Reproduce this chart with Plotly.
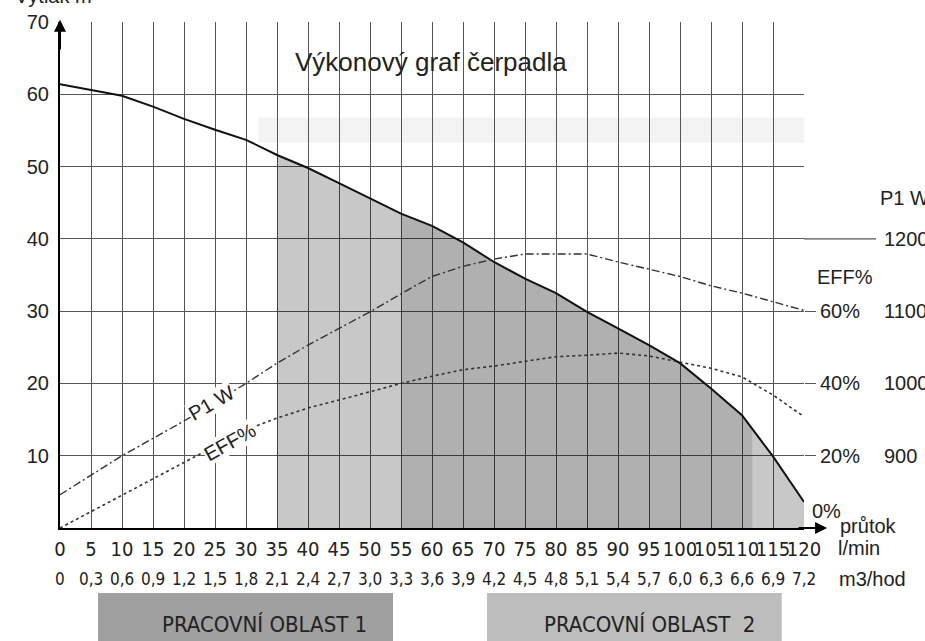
import numpy as np
import plotly.graph_objects as go

# ---------------- data ----------------
flow_lpm = [0, 5, 10, 15, 20, 25, 30, 35, 40, 45, 50, 55, 60, 65, 70, 75, 80, 85, 90, 95, 100, 105, 110, 115, 120]
flow_m3h = ["0", "0,3", "0,6", "0,9", "1,2", "1,5", "1,8", "2,1", "2,4", "2,7", "3,0", "3,3", "3,6",
            "3,9", "4,2", "4,5", "4,8", "5,1", "5,4", "5,7", "6,0", "6,3", "6,6", "6,9", "7,2"]
head_m = [61.4, 60.6, 59.8, 58.3, 56.6, 55.1, 53.7, 51.6, 49.8, 47.7, 45.6, 43.5, 41.8, 39.5, 36.8,
          34.5, 32.5, 29.9, 27.6, 25.3, 22.8, 19.3, 15.6, 9.9, 3.6]
power_w = [846, 873, 900, 924, 948, 974, 1000, 1028, 1053, 1076, 1099, 1124, 1148, 1162, 1172,
           1179, 1179, 1179, 1168, 1158, 1148, 1135, 1125, 1113, 1101]
eff_pct = [0, 4.5, 9.2, 13.6, 18.0, 22.6, 27.2, 30.4, 33.2, 35.4, 37.8, 40.0, 42.0, 43.8, 44.8,
           46.2, 47.4, 47.8, 48.4, 47.6, 46.0, 44.2, 41.8, 36.8, 30.8]
head_ticks = [10, 20, 30, 40, 50, 60, 70]
eff_ticks = [20, 40, 60]
power_ticks = [900, 1000, 1100, 1200]

# working zones (l/min) : (start, end, fill)
zones = [(35, 55, "rgba(0,0,0,0.215)"),
         (55, 111.7, "rgba(0,0,0,0.31)"),
         (111.7, 120, "rgba(0,0,0,0.215)")]
zone_labels = ["PRACOVNÍ OBLAST 1", "PRACOVNÍ OBLAST  2"]

NARROW = "Liberation Sans Narrow, Arial Narrow, DejaVu Sans Condensed, sans-serif"
REG = "Liberation Sans, Arial, Helvetica, sans-serif"
GRID = "#555555"
TXT = "#222222"

fig = go.Figure()

# shaded zones under head curve
fx = np.array(flow_lpm, dtype=float)
fh = np.array(head_m, dtype=float)
for x0, x1, col in zones:
    inner = [(x, h) for x, h in zip(fx, fh) if x0 < x < x1]
    xs = [x0] + [p[0] for p in inner] + [x1]
    ys = [float(np.interp(x0, fx, fh))] + [p[1] for p in inner] + [float(np.interp(x1, fx, fh))]
    fig.add_trace(go.Scatter(x=xs, y=ys, mode="lines", line=dict(width=0),
                             fill="tozeroy", fillcolor=col, hoverinfo="skip", showlegend=False))

# efficiency (dotted) on y2
fig.add_trace(go.Scatter(x=flow_lpm, y=eff_pct, yaxis="y2", mode="lines",
                         line=dict(color="#333333", width=1.6, dash="dot"), showlegend=False))
# power (dash-dot) on y3
fig.add_trace(go.Scatter(x=flow_lpm, y=power_w, yaxis="y3", mode="lines",
                         line=dict(color="#333333", width=1.4, dash="8px,3px,2px,3px"), showlegend=False))
# head curve
fig.add_trace(go.Scatter(x=flow_lpm, y=head_m, mode="lines",
                         line=dict(color="#111111", width=2), showlegend=False))

annotations = []
# title
annotations.append(dict(text="Výkonový graf čerpadla", xref="paper", yref="y", x=0.499, y=64.5,
                        xanchor="center", showarrow=False, font=dict(family=REG, size=26, color=TXT)))
# clipped y-axis title
annotations.append(dict(text="Výtlak m", xref="paper", yref="paper", x=-0.063, y=1.052,
                        xanchor="left", yanchor="middle", showarrow=False,
                        font=dict(family=REG, size=20, color=TXT)))
# labels on curves
annotations.append(dict(text="P1 W", xref="x", yref="y3", x=24.4, y=973, textangle=-30,
                        xanchor="center", showarrow=False, bgcolor="white", borderpad=0,
                        font=dict(family=REG, size=20, color=TXT)))
annotations.append(dict(text="EFF%", xref="x", yref="y2", x=27.4, y=23.8, textangle=-29,
                        xanchor="center", showarrow=False, bgcolor="white", borderpad=0,
                        font=dict(family=REG, size=20, color=TXT)))
# right-side axis titles
annotations.append(dict(text="P1 W", xref="paper", yref="y3", x=1.0995, y=1256, xanchor="left",
                        showarrow=False, font=dict(family=REG, size=20, color=TXT)))
annotations.append(dict(text="EFF%", xref="paper", yref="y2", x=1.0148, y=69.4, xanchor="left",
                        showarrow=False, font=dict(family=REG, size=20, color=TXT)))
annotations.append(dict(text="0%", xref="paper", yref="y2", x=1.0075, y=0, yshift=17, xanchor="left",
                        showarrow=False, font=dict(family=REG, size=20, color=TXT)))
annotations.append(dict(text="průtok", xref="paper", yref="y", x=1.0457, y=0, yshift=2, xanchor="left",
                        showarrow=False, font=dict(family=REG, size=20, color=TXT)))
annotations.append(dict(text="l/min", xref="paper", yref="y", x=1.043, y=0, yshift=-20, xanchor="left",
                        showarrow=False, font=dict(family=REG, size=20, color=TXT)))
annotations.append(dict(text="m3/hod", xref="paper", yref="y", x=1.0443, y=0, yshift=-51, xanchor="left",
                        showarrow=False, font=dict(family=REG, size=20, color=TXT)))
# m3/hod row
for xv, lab in zip(flow_lpm, flow_m3h):
    annotations.append(dict(text=lab, xref="x", yref="y", x=xv, y=0, yshift=-51, xanchor="center",
                            showarrow=False, font=dict(family=NARROW, size=17, color=TXT)))
# axis arrows
annotations.append(dict(text="", xref="x", yref="y", x=0, y=70.3, axref="x", ayref="y", ax=0, ay=66,
                        showarrow=True, arrowhead=2, arrowsize=1.2, arrowwidth=2, arrowcolor="black"))
annotations.append(dict(text="", xref="paper", yref="y", x=1.031, y=0, ax=-30, ay=0,
                        showarrow=True, arrowhead=2, arrowsize=1.2, arrowwidth=2, arrowcolor="black"))
# zone legend texts
annotations.append(dict(text=zone_labels[0], xref="paper", yref="paper", x=0.275, y=-0.19,
                        xanchor="center", yanchor="middle",
                        showarrow=False, font=dict(family=NARROW, size=22, color=TXT)))
annotations.append(dict(text=zone_labels[1], xref="paper", yref="paper", x=0.792, y=-0.19,
                        xanchor="center", yanchor="middle",
                        showarrow=False, font=dict(family=NARROW, size=22, color=TXT)))

shapes = [
    # faint background band
    dict(type="rect", xref="x", yref="y", x0=32, x1=120, y0=53.3, y1=56.8, layer="below",
         line=dict(width=0), fillcolor="#f3f3f3"),
    # 1200 W line extension
    dict(type="line", xref="paper", yref="y3", x0=1, x1=1.0968, y0=1200, y1=1200,
         line=dict(color=GRID, width=1.3)),
    # legend boxes
    dict(type="rect", xref="paper", yref="paper", x0=0.0511, x1=0.4476, y0=-0.1285, y1=-0.26,
         line=dict(width=0), fillcolor="#a0a0a0"),
    dict(type="rect", xref="paper", yref="paper", x0=0.574, x1=0.970, y0=-0.1285, y1=-0.26,
         line=dict(width=0), fillcolor="#bdbdbd"),
]

fig.update_layout(
    width=925, height=641,
    margin=dict(l=60, r=121, t=22, b=113, autoexpand=False),
    paper_bgcolor="white", plot_bgcolor="white",
    showlegend=False,
    xaxis=dict(range=[0, 120], tickvals=flow_lpm, ticktext=[str(v) for v in flow_lpm],
               tickangle=0, automargin=False,
               showgrid=True, gridcolor=GRID, gridwidth=1.2, zeroline=False,
               showline=True, linecolor="black", linewidth=2,
               ticks="outside", ticklen=2, tickcolor="rgba(0,0,0,0)",
               tickfont=dict(family=NARROW, size=20, color=TXT), fixedrange=True),
    yaxis=dict(range=[0, 70], tickvals=head_ticks, showgrid=True, gridcolor=GRID, gridwidth=1.2,
               automargin=False,
               zeroline=False, showline=True, linecolor="black", linewidth=2,
               ticks="outside", ticklen=5, tickcolor="rgba(0,0,0,0)",
               tickfont=dict(family=REG, size=20, color=TXT)),
    yaxis2=dict(range=[0, 140], overlaying="y", side="right", anchor="x", automargin=False,
                tickvals=eff_ticks, ticktext=[f"{v}%" for v in eff_ticks],
                ticks="outside", ticklen=11, tickwidth=1.3, tickcolor=GRID,
                showgrid=False, zeroline=False, showline=False,
                tickfont=dict(family=REG, size=20, color=TXT)),
    yaxis3=dict(range=[800, 1500], overlaying="y", side="right", anchor="x", automargin=False,
                tickvals=power_ticks, ticks="", ticklabelstandoff=79,
                showgrid=False, zeroline=False, showline=False,
                tickfont=dict(family=REG, size=20, color=TXT)),
    annotations=annotations,
    shapes=shapes,
)

fig.write_html("out.html", post_script="document.body.style.margin='0px';",
               config={"displayModeBar": False})
